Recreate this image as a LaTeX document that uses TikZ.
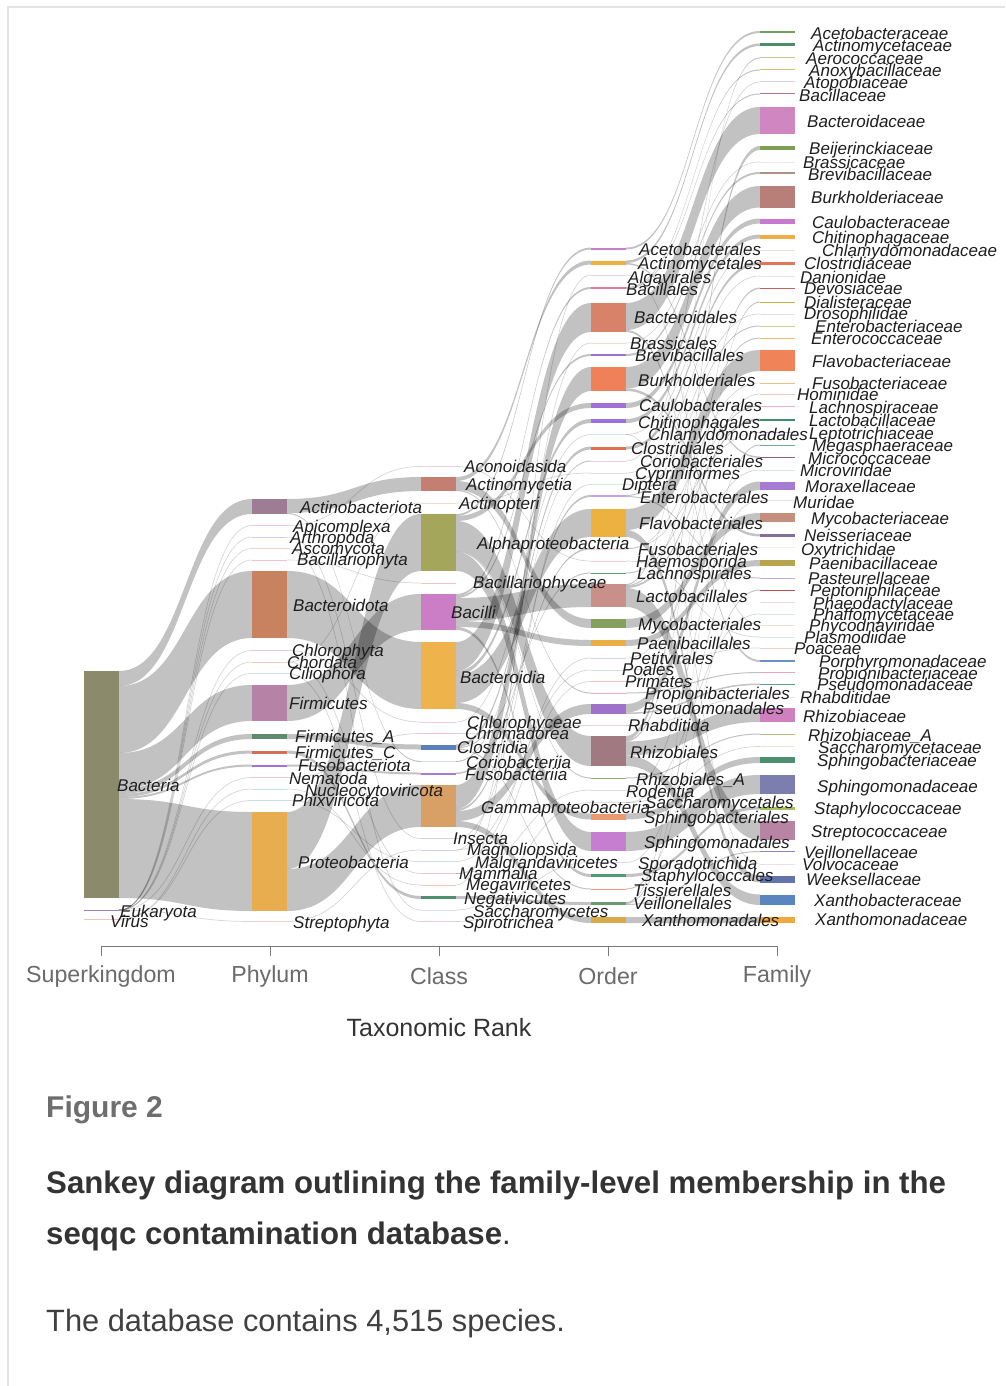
\documentclass[tikz,border=0pt]{standalone}
\usepackage{fontspec}
\setmainfont{Liberation Sans}
\usetikzlibrary{calc}
\pgfdeclarelayer{bg}
\pgfsetlayers{bg,main}
\definecolor{axisgrey}{HTML}{7A7A7A}
\definecolor{ticktext}{HTML}{6B6B6B}
\definecolor{figgrey}{HTML}{6E6E6E}
\definecolor{captext}{HTML}{333333}
\definecolor{bodytext}{HTML}{404040}
\definecolor{cardline}{HTML}{E4E4E4}
\definecolor{lbltext}{HTML}{1E1E1E}
\newcommand\nd[5]{\definecolor{c#1}{HTML}{#5}\node[sbar,fill=c#1,minimum height=#4pt] (#1) at (#2,#3) {};}
\newcommand\lb[4]{\node[lbl] (L#1) at (#2,#3) {#4};}
\newcommand\bd[5]{\fill[flow] ($(#1.north east)+(0,#2)$) .. controls ($(#1.north east)+(67,#2)$) and ($(#3.north west)+(-67,#4)$) .. ($(#3.north west)+(0,#4)$) -- ($(#3.north west)+(0,#4+#5)$) .. controls ($(#3.north west)+(-67,#4+#5)$) and ($(#1.north east)+(67,#2+#5)$) .. ($(#1.north east)+(0,#2+#5)$) -- cycle;}
\newcommand\tn[2]{\draw[thinflow] (#1.east) .. controls +(67,0) and +(-67,0) .. (#2.west);}
\begin{document}
\begin{tikzpicture}[x=1pt,y=-1pt,
  sbar/.style={rectangle,draw=none,inner sep=0pt,outer sep=0pt,minimum width=35pt,anchor=north west},
  lbl/.style={anchor=west,inner sep=0pt,text height=12.2pt,text depth=0pt,font=\fontsize{17}{17}\selectfont\itshape,text=lbltext},
  flow/.style={fill=black,fill opacity=0.24,draw=none},
  thinflow/.style={draw=black,draw opacity=0.16,line width=0.7pt},
  tick/.style={draw=axisgrey,line width=1pt},
  ticklbl/.style={inner sep=0pt,font=\fontsize{23.2}{25}\selectfont,text=ticktext}]
\useasboundingbox (0,0) rectangle (1005,1386);
\begin{pgfonlayer}{bg}
\fill[white] (0,0) rectangle (1005,1386);
\draw[cardline,line width=1.2pt] (1005,7) -- (8,7) -- (8,1386);
\end{pgfonlayer}

% ---- Superkingdom
\nd{Bacteria}{84}{671}{227}{8B8B6C}
\nd{Eukaryota}{84}{909.5}{1.2}{9C80C8}
\nd{Virus}{84}{918.5}{1.2}{F2C4B8}
% ---- Phylum
\nd{Actinobacteriota}{252}{499}{15}{9E7D94}
\nd{Apicomplexa}{252}{525}{1}{F0C8D8}
\nd{Arthropoda}{252}{536.5}{1}{D4CCEE}
\nd{Ascomycota}{252}{548}{1}{F2D4C4}
\nd{Bacillariophyta}{252}{559.5}{1}{F0C0D0}
\nd{Bacteroidota}{252}{571}{67}{C8825F}
\nd{Chlorophyta}{252}{650}{1}{E8C4E8}
\nd{Chordata}{252}{661.5}{1}{F2CCBC}
\nd{Ciliophora}{252}{673}{1}{D8DCF0}
\nd{Firmicutes}{252}{685}{36}{B683A6}
\nd{FirmicutesA}{252}{734}{5}{5F8A6B}
\nd{FirmicutesC}{252}{750.5}{3}{D07058}
\nd{Fusobacteriota}{252}{764.5}{2}{A36EE0}
\nd{Nematoda}{252}{777}{1}{F0C8C8}
\nd{Nucleocytoviricota}{252}{788.5}{1}{C8DCEC}
\nd{Phixviricota}{252}{800}{1}{C4E0E0}
\nd{Proteobacteria}{252}{812}{99}{E8AD4F}
\nd{Streptophyta}{252}{921}{1}{F2D0C4}
% ---- Class
\nd{Aconoidasida}{421}{466}{1}{F0D0DC}
\nd{Actinomycetia}{421}{477}{14}{C47E72}
\nd{Actinopteri}{421}{502.5}{1}{F0DCD0}
\nd{Alphaproteobacteria}{421}{514}{57}{A4A65C}
\nd{Bacillariophyceae}{421}{582.5}{1}{F0C4C4}
\nd{Bacilli}{421}{594}{36}{CB7DC5}
\nd{Bacteroidia}{421}{642}{67}{EEB34B}
\nd{Chlorophyceae}{421}{721.5}{1}{F0CCD4}
\nd{Chromadorea}{421}{733}{1}{F0C4CC}
\nd{Clostridia}{421}{744.5}{5}{5B7FB8}
\nd{Coriobacteriia}{421}{761}{1}{D4DCF0}
\nd{Fusobacteriia}{421}{772.5}{2}{A67AD8}
\nd{Gammaproteobacteria}{421}{785}{42}{D9A066}
\nd{Insecta}{421}{838}{1}{D4D4E8}
\nd{Magnoliopsida}{421}{849.5}{1}{DCCCF0}
\nd{Malgrandaviricetes}{421}{861}{1}{CCDCE8}
\nd{Mammalia}{421}{873}{1}{F0C4CC}
\nd{Megaviricetes}{421}{884.5}{1}{F0CCBC}
\nd{Negativicutes}{421}{896}{3}{4F8F70}
\nd{Saccharomycetes}{421}{909.5}{1}{DCE4F0}
\nd{Spirotrichea}{421}{921}{1}{F0CCD4}
% ---- Order
\nd{Acetobacterales}{591}{247.5}{2}{C77FC8}
\nd{Actinomycetales}{591}{260.5}{4}{EFB040}
\nd{Algavirales}{591}{274.5}{1}{DCD4F0}
\nd{Bacillales}{591}{287}{2}{E87898}
\nd{Bacteroidales}{591}{303}{29}{D9826A}
\nd{Brassicales}{591}{342.5}{1}{F0DCD4}
\nd{Brevibacillales}{591}{354}{2}{9A70D0}
\nd{Burkholderiales}{591}{367}{24}{EF8058}
\nd{Caulobacterales}{591}{403}{5}{A070D8}
\nd{Chitinophagales}{591}{419}{4}{9870E0}
\nd{Chlamydomonadales}{591}{434}{1}{D4E8DC}
\nd{Clostridiales}{591}{446.5}{3}{E07050}
\nd{Coriobacteriales}{591}{460.5}{1}{F0CCDC}
\nd{Cypriniformes}{591}{472.5}{1}{DCDCDC}
\nd{Diptera}{591}{484}{1}{D4ECDC}
\nd{Enterobacterales}{591}{495}{2}{C8A0E8}
\nd{Flavobacteriales}{591}{509}{28}{ECB13F}
\nd{Fusobacteriales}{591}{548}{1.5}{F0DCE4}
\nd{Haemosporida}{591}{560.5}{1}{F0CCCC}
\nd{Lachnospirales}{591}{572.5}{1}{5FA070}
\nd{Lactobacillales}{591}{584}{23}{C9908A}
\nd{Mycobacteriales}{591}{619}{9}{83A05F}
\nd{Paenibacillales}{591}{640}{6}{E9AE45}
\nd{Petitvirales}{591}{657.5}{1}{CCDCDC}
\nd{Poales}{591}{669.5}{1}{D4E4D4}
\nd{Primates}{591}{681}{1}{F0C4BC}
\nd{Propionibacteriales}{591}{692.5}{1}{F0A8BC}
\nd{Pseudomonadales}{591}{704}{10}{A071C9}
\nd{Rhabditida}{591}{725}{1}{F0D4DC}
\nd{Rhizobiales}{591}{736}{30}{A07A80}
\nd{RhizobialesA}{591}{777.5}{1}{90B070}
\nd{Rodentia}{591}{789.5}{1}{DCDCF0}
\nd{Saccharomycetales}{591}{802}{1}{E4DCF0}
\nd{Sphingobacteriales}{591}{813.5}{6}{E99A70}
\nd{Sphingomonadales}{591}{832}{19}{C67FD0}
\nd{Sporadotrichida}{591}{862}{1}{DCD4F0}
\nd{Staphylococcales}{591}{874}{3}{4F9A70}
\nd{Tissierellales}{591}{888.5}{1.5}{F09880}
\nd{Veillonellales}{591}{902}{3}{6A9A70}
\nd{Xanthomonadales}{591}{917}{6}{D9AA48}
% ---- Family
\nd{Acetobacteraceae}{760}{31}{2}{70A060}
\nd{Actinomycetaceae}{760}{43.5}{2.5}{4F8A6A}
\nd{Aerococcaceae}{760}{57.5}{1}{C8C890}
\nd{Anoxybacillaceae}{760}{69.5}{1}{D8C070}
\nd{Atopobiaceae}{760}{81.5}{1}{D8D0F0}
\nd{Bacillaceae}{760}{93.5}{1}{B07880}
\nd{Bacteroidaceae}{760}{107}{27}{D086C0}
\nd{Beijerinckiaceae}{760}{146}{4}{7E9D55}
\nd{Brassicaceae}{760}{161.5}{1}{F0E4E4}
\nd{Brevibacillaceae}{760}{172}{2}{B09080}
\nd{Burkholderiaceae}{760}{186}{21.5}{B87F78}
\nd{Caulobacteraceae}{760}{218.5}{5}{C77AD0}
\nd{Chitinophagaceae}{760}{234.5}{4}{EFAD45}
\nd{Chlamydomonadaceae}{760}{249.5}{1}{E8E0D8}
\nd{Clostridiaceae}{760}{262}{3}{E0775A}
\nd{Danionidae}{760}{275.5}{1}{F0E0E8}
\nd{Devosiaceae}{760}{287.5}{1.5}{C06060}
\nd{Dialisteraceae}{760}{301.5}{1}{C8B040}
\nd{Drosophilidae}{760}{313.5}{1}{E4DCF0}
\nd{Enterobacteriaceae}{760}{325.5}{1}{C8D098}
\nd{Enterococcaceae}{760}{337.5}{1}{E8C070}
\nd{Flavobacteriaceae}{760}{350}{21}{F08458}
\nd{Fusobacteriaceae}{760}{382.5}{1}{E8C088}
\nd{Hominidae}{760}{393.5}{1}{F0CCC4}
\nd{Lachnospiraceae}{760}{405.5}{1}{F0B0C8}
\nd{Lactobacillaceae}{760}{418.5}{2}{3F8F6A}
\nd{Leptotrichiaceae}{760}{432}{1}{C8B0E8}
\nd{Megasphaeraceae}{760}{444.5}{1}{70B090}
\nd{Micrococcaceae}{760}{456.5}{1}{906080}
\nd{Microviridae}{760}{469.5}{1}{D8E8E8}
\nd{Moraxellaceae}{760}{481.5}{8.5}{A67CD2}
\nd{Muridae}{760}{500}{1}{F0DCDC}
\nd{Mycobacteriaceae}{760}{513}{9}{C48F7C}
\nd{Neisseriaceae}{760}{534}{2.5}{7F6F9A}
\nd{Oxytrichidae}{760}{547}{1}{F0F0E4}
\nd{Paenibacillaceae}{760}{560}{6}{B8A44F}
\nd{Pasteurellaceae}{760}{577.5}{1}{C0A8E0}
\nd{Peptoniphilaceae}{760}{589.5}{1}{C05050}
\nd{Phaeodactylaceae}{760}{601.5}{1}{E8D8F0}
\nd{Phaffomycetaceae}{760}{613.5}{1}{D8E8E8}
\nd{Phycodnaviridae}{760}{624.5}{1}{F0E0D0}
\nd{Plasmodiidae}{760}{636.5}{1}{D8E8E8}
\nd{Poaceae}{760}{647.5}{1}{F0D0D0}
\nd{Porphyromonadaceae}{760}{660}{2}{6A90C8}
\nd{Propionibacteriaceae}{760}{672}{1}{F0A0C0}
\nd{Pseudomonadaceae}{760}{683.5}{1.5}{60A080}
\nd{Rhabditidae}{760}{696.5}{1}{F0E0E0}
\nd{Rhizobiaceae}{760}{708}{14}{CF80BF}
\nd{RhizobiaceaeA}{760}{733.5}{1}{B0C080}
\nd{Saccharomycetaceae}{760}{746}{1}{F0E0D8}
\nd{Sphingobacteriaceae}{760}{757}{6}{4A8F70}
\nd{Sphingomonadaceae}{760}{775}{19}{7B7EAF}
\nd{Staphylococcaceae}{760}{806.5}{3}{A8C060}
\nd{Streptococcaceae}{760}{821}{19}{B784A4}
\nd{Veillonellaceae}{760}{851}{1}{9080C0}
\nd{Volvocaceae}{760}{863.5}{1}{E8E0F0}
\nd{Weeksellaceae}{760}{875.5}{7}{6474AA}
\nd{Xanthobacteraceae}{760}{894.5}{10.5}{5A86C0}
\nd{Xanthomonadaceae}{760}{917}{6}{F0A93E}

\begin{pgfonlayer}{bg}
% Superkingdom -> Phylum
\bd{Bacteria}{0}{Actinobacteriota}{0}{15}
\bd{Bacteria}{15}{Bacteroidota}{0}{67}
\bd{Bacteria}{82}{Firmicutes}{0}{36}
\bd{Bacteria}{118}{FirmicutesA}{0}{5}
\bd{Bacteria}{123}{FirmicutesC}{0}{3}
\bd{Bacteria}{126}{Fusobacteriota}{0}{2}
\bd{Bacteria}{128}{Proteobacteria}{0}{99}
\tn{Eukaryota}{Apicomplexa}
\tn{Eukaryota}{Arthropoda}
\tn{Eukaryota}{Ascomycota}
\tn{Eukaryota}{Bacillariophyta}
\tn{Eukaryota}{Chlorophyta}
\tn{Eukaryota}{Chordata}
\tn{Eukaryota}{Ciliophora}
\tn{Eukaryota}{Nematoda}
\tn{Eukaryota}{Streptophyta}
\tn{Virus}{Nucleocytoviricota}
\tn{Virus}{Phixviricota}
% Phylum -> Class
\bd{Actinobacteriota}{0}{Actinomycetia}{0}{14}
\bd{Actinobacteriota}{14}{Coriobacteriia}{0}{1}
\bd{Bacteroidota}{0}{Bacteroidia}{0}{67}
\bd{Firmicutes}{0}{Bacilli}{0}{36}
\bd{FirmicutesA}{0}{Clostridia}{0}{5}
\bd{FirmicutesC}{0}{Negativicutes}{0}{3}
\bd{Fusobacteriota}{0}{Fusobacteriia}{0}{2}
\bd{Proteobacteria}{0}{Alphaproteobacteria}{0}{57}
\bd{Proteobacteria}{57}{Gammaproteobacteria}{0}{42}
\tn{Apicomplexa}{Aconoidasida}
\tn{Arthropoda}{Insecta}
\tn{Ascomycota}{Saccharomycetes}
\tn{Bacillariophyta}{Bacillariophyceae}
\tn{Chlorophyta}{Chlorophyceae}
\tn{Chordata}{Actinopteri}
\tn{Chordata}{Mammalia}
\tn{Ciliophora}{Spirotrichea}
\tn{Nematoda}{Chromadorea}
\tn{Nucleocytoviricota}{Megaviricetes}
\tn{Phixviricota}{Malgrandaviricetes}
\tn{Streptophyta}{Magnoliopsida}
% Class -> Order
\bd{Actinomycetia}{0}{Actinomycetales}{0}{4}
\bd{Actinomycetia}{4}{Mycobacteriales}{0}{9}
\bd{Actinomycetia}{13}{Propionibacteriales}{0}{1}
\bd{Alphaproteobacteria}{0}{Acetobacterales}{0}{2}
\bd{Alphaproteobacteria}{2}{Caulobacterales}{0}{5}
\bd{Alphaproteobacteria}{7}{Rhizobiales}{0}{30}
\bd{Alphaproteobacteria}{37}{RhizobialesA}{0}{1}
\bd{Alphaproteobacteria}{38}{Sphingomonadales}{0}{19}
\bd{Bacilli}{0}{Bacillales}{0}{2}
\bd{Bacilli}{2}{Brevibacillales}{0}{2}
\bd{Bacilli}{4}{Lactobacillales}{0}{23}
\bd{Bacilli}{27}{Paenibacillales}{0}{6}
\bd{Bacilli}{33}{Staphylococcales}{0}{3}
\bd{Bacteroidia}{0}{Bacteroidales}{0}{29}
\bd{Bacteroidia}{29}{Chitinophagales}{0}{4}
\bd{Bacteroidia}{33}{Flavobacteriales}{0}{28}
\bd{Bacteroidia}{61}{Sphingobacteriales}{0}{6}
\bd{Clostridia}{0}{Clostridiales}{0}{3}
\bd{Clostridia}{3}{Lachnospirales}{0}{1}
\bd{Clostridia}{4}{Tissierellales}{0}{1}
\bd{Gammaproteobacteria}{0}{Burkholderiales}{0}{24}
\bd{Gammaproteobacteria}{24}{Enterobacterales}{0}{2}
\bd{Gammaproteobacteria}{26}{Pseudomonadales}{0}{10}
\bd{Gammaproteobacteria}{36}{Xanthomonadales}{0}{6}
\bd{Negativicutes}{0}{Veillonellales}{0}{3}
\bd{Fusobacteriia}{0}{Fusobacteriales}{0}{1.5}
\bd{Coriobacteriia}{0}{Coriobacteriales}{0}{1}
\tn{Aconoidasida}{Haemosporida}
\tn{Actinopteri}{Cypriniformes}
\tn{Chlorophyceae}{Chlamydomonadales}
\tn{Chromadorea}{Rhabditida}
\tn{Insecta}{Diptera}
\tn{Magnoliopsida}{Brassicales}
\tn{Magnoliopsida}{Poales}
\tn{Malgrandaviricetes}{Petitvirales}
\tn{Mammalia}{Primates}
\tn{Mammalia}{Rodentia}
\tn{Megaviricetes}{Algavirales}
\tn{Saccharomycetes}{Saccharomycetales}
\tn{Spirotrichea}{Sporadotrichida}
% Order -> Family
\bd{Acetobacterales}{0}{Acetobacteraceae}{0}{2}
\bd{Actinomycetales}{0}{Actinomycetaceae}{0}{2.5}
\bd{Actinomycetales}{2.5}{Micrococcaceae}{0}{1.5}
\bd{Bacillales}{0}{Anoxybacillaceae}{0}{1}
\bd{Bacillales}{1}{Bacillaceae}{0}{1}
\bd{Bacteroidales}{0}{Bacteroidaceae}{0}{27}
\bd{Bacteroidales}{27}{Porphyromonadaceae}{0}{2}
\bd{Brevibacillales}{0}{Brevibacillaceae}{0}{2}
\bd{Burkholderiales}{0}{Burkholderiaceae}{0}{21.5}
\bd{Burkholderiales}{21.5}{Neisseriaceae}{0}{2.5}
\bd{Caulobacterales}{0}{Caulobacteraceae}{0}{5}
\bd{Chitinophagales}{0}{Chitinophagaceae}{0}{4}
\bd{Clostridiales}{0}{Clostridiaceae}{0}{3}
\bd{Enterobacterales}{0}{Enterobacteriaceae}{0}{1}
\bd{Enterobacterales}{1}{Pasteurellaceae}{0}{1}
\bd{Flavobacteriales}{0}{Flavobacteriaceae}{0}{21}
\bd{Flavobacteriales}{21}{Weeksellaceae}{0}{7}
\bd{Lachnospirales}{0}{Lachnospiraceae}{0}{1}
\bd{Lactobacillales}{0}{Aerococcaceae}{0}{1}
\bd{Lactobacillales}{1}{Enterococcaceae}{0}{1}
\bd{Lactobacillales}{2}{Lactobacillaceae}{0}{2}
\bd{Lactobacillales}{4}{Streptococcaceae}{0}{19}
\bd{Mycobacteriales}{0}{Mycobacteriaceae}{0}{9}
\bd{Paenibacillales}{0}{Paenibacillaceae}{0}{6}
\bd{Propionibacteriales}{0}{Propionibacteriaceae}{0}{1}
\bd{Pseudomonadales}{0}{Moraxellaceae}{0}{8.5}
\bd{Pseudomonadales}{8.5}{Pseudomonadaceae}{0}{1.5}
\bd{Rhizobiales}{0}{Beijerinckiaceae}{0}{4}
\bd{Rhizobiales}{4}{Devosiaceae}{0}{1.5}
\bd{Rhizobiales}{5.5}{Rhizobiaceae}{0}{14}
\bd{Rhizobiales}{19.5}{Xanthobacteraceae}{0}{10.5}
\bd{RhizobialesA}{0}{RhizobiaceaeA}{0}{1}
\bd{Sphingobacteriales}{0}{Sphingobacteriaceae}{0}{6}
\bd{Sphingomonadales}{0}{Sphingomonadaceae}{0}{19}
\bd{Staphylococcales}{0}{Staphylococcaceae}{0}{3}
\bd{Tissierellales}{0}{Peptoniphilaceae}{0}{1}
\bd{Veillonellales}{0}{Dialisteraceae}{0}{1}
\bd{Veillonellales}{1}{Megasphaeraceae}{0}{1}
\bd{Veillonellales}{2}{Veillonellaceae}{0}{1}
\bd{Xanthomonadales}{0}{Xanthomonadaceae}{0}{6}
\tn{Algavirales}{Phycodnaviridae}
\tn{Brassicales}{Brassicaceae}
\tn{Chlamydomonadales}{Chlamydomonadaceae}
\tn{Chlamydomonadales}{Volvocaceae}
\tn{Coriobacteriales}{Atopobiaceae}
\tn{Cypriniformes}{Danionidae}
\tn{Diptera}{Drosophilidae}
\tn{Fusobacteriales}{Fusobacteriaceae}
\tn{Fusobacteriales}{Leptotrichiaceae}
\tn{Haemosporida}{Plasmodiidae}
\tn{Petitvirales}{Microviridae}
\tn{Poales}{Poaceae}
\tn{Primates}{Hominidae}
\tn{Rhabditida}{Rhabditidae}
\tn{Rodentia}{Muridae}
\tn{Saccharomycetales}{Saccharomycetaceae}
\tn{Saccharomycetales}{Phaffomycetaceae}
\tn{Sporadotrichida}{Oxytrichidae}
\end{pgfonlayer}

% ---- labels
\lb{Bacteria}{117}{785}{Bacteria}
\lb{Eukaryota}{120}{911}{Eukaryota}
\lb{Virus}{110}{921}{Virus}
\lb{Actinobacteriota}{300}{507}{Actinobacteriota}
\lb{Apicomplexa}{293}{526}{Apicomplexa}
\lb{Arthropoda}{290}{537}{Arthropoda}
\lb{Ascomycota}{292}{548}{Ascomycota}
\lb{Bacillariophyta}{297}{559}{Bacillariophyta}
\lb{Bacteroidota}{293}{605}{Bacteroidota}
\lb{Chlorophyta}{292}{650}{Chlorophyta}
\lb{Chordata}{287}{662}{Chordata}
\lb{Ciliophora}{289}{673}{Ciliophora}
\lb{Firmicutes}{289}{703}{Firmicutes}
\lb{FirmicutesA}{295}{736}{Firmicutes\_A}
\lb{FirmicutesC}{295}{752}{Firmicutes\_C}
\lb{Fusobacteriota}{298}{765}{Fusobacteriota}
\lb{Nematoda}{289}{778}{Nematoda}
\lb{Nucleocytoviricota}{305}{790}{Nucleocytoviricota}
\lb{Phixviricota}{292}{800}{Phixviricota}
\lb{Proteobacteria}{298}{862}{Proteobacteria}
\lb{Streptophyta}{293}{922}{Streptophyta}
\lb{Aconoidasida}{464}{466}{Aconoidasida}
\lb{Actinomycetia}{466}{484}{Actinomycetia}
\lb{Actinopteri}{459}{503}{Actinopteri}
\lb{Alphaproteobacteria}{477}{543}{Alphaproteobacteria}
\lb{Bacillariophyceae}{473}{582}{Bacillariophyceae}
\lb{Bacilli}{451}{612}{Bacilli}
\lb{Bacteroidia}{460}{677}{Bacteroidia}
\lb{Chlorophyceae}{467}{722}{Chlorophyceae}
\lb{Chromadorea}{465}{733}{Chromadorea}
\lb{Clostridia}{457}{747}{Clostridia}
\lb{Coriobacteriia}{466}{762}{Coriobacteriia}
\lb{Fusobacteriia}{465}{774}{Fusobacteriia}
\lb{Gammaproteobacteria}{481}{807}{Gammaproteobacteria}
\lb{Insecta}{453}{838}{Insecta}
\lb{Magnoliopsida}{467}{849}{Magnoliopsida}
\lb{Malgrandaviricetes}{475}{862}{Malgrandaviricetes}
\lb{Mammalia}{459}{873}{Mammalia}
\lb{Megaviricetes}{466}{884}{Megaviricetes}
\lb{Negativicutes}{464}{898}{Negativicutes}
\lb{Saccharomycetes}{473}{911}{Saccharomycetes}
\lb{Spirotrichea}{463}{922}{Spirotrichea}
\lb{Acetobacterales}{639}{249}{Acetobacterales}
\lb{Actinomycetales}{638}{263}{Actinomycetales}
\lb{Algavirales}{628}{277}{Algavirales}
\lb{Bacillales}{626}{289}{Bacillales}
\lb{Bacteroidales}{634}{317}{Bacteroidales}
\lb{Brassicales}{630}{343}{Brassicales}
\lb{Brevibacillales}{635}{355}{Brevibacillales}
\lb{Burkholderiales}{638}{380}{Burkholderiales}
\lb{Caulobacterales}{639}{405}{Caulobacterales}
\lb{Chitinophagales}{638}{422}{Chitinophagales}
\lb{Chlamydomonadales}{648}{434}{Chlamydomonadales}
\lb{Clostridiales}{631}{448}{Clostridiales}
\lb{Coriobacteriales}{640}{461}{Coriobacteriales}
\lb{Cypriniformes}{635}{473}{Cypriniformes}
\lb{Diptera}{622}{484}{Diptera}
\lb{Enterobacterales}{640}{497}{Enterobacterales}
\lb{Flavobacteriales}{639}{523}{Flavobacteriales}
\lb{Fusobacteriales}{638}{549}{Fusobacteriales}
\lb{Haemosporida}{636}{561}{Haemosporida}
\lb{Lachnospirales}{637}{573}{Lachnospirales}
\lb{Lactobacillales}{636}{596}{Lactobacillales}
\lb{Mycobacteriales}{638}{624}{Mycobacteriales}
\lb{Paenibacillales}{637}{643}{Paenibacillales}
\lb{Petitvirales}{630}{658}{Petitvirales}
\lb{Poales}{622}{669}{Poales}
\lb{Primates}{625}{681}{Primates}
\lb{Propionibacteriales}{645}{693}{Propionibacteriales}
\lb{Pseudomonadales}{643}{708}{Pseudomonadales}
\lb{Rhabditida}{628}{725}{Rhabditida}
\lb{Rhizobiales}{630}{752}{Rhizobiales}
\lb{RhizobialesA}{636}{779}{Rhizobiales\_A}
\lb{Rodentia}{626}{791}{Rodentia}
\lb{Saccharomycetales}{645}{802}{Saccharomycetales}
\lb{Sphingobacteriales}{644}{817}{Sphingobacteriales}
\lb{Sphingomonadales}{644}{842}{Sphingomonadales}
\lb{Sporadotrichida}{638}{863}{Sporadotrichida}
\lb{Staphylococcales}{641}{875}{Staphylococcales}
\lb{Tissierellales}{633}{890}{Tissierellales}
\lb{Veillonellales}{633}{903}{Veillonellales}
\lb{Xanthomonadales}{642}{920}{Xanthomonadales}
\lb{Acetobacteraceae}{811}{33}{Acetobacteraceae}
\lb{Actinomycetaceae}{813}{45}{Actinomycetaceae}
\lb{Aerococcaceae}{806}{58}{Aerococcaceae}
\lb{Anoxybacillaceae}{809}{70}{Anoxybacillaceae}
\lb{Atopobiaceae}{804}{82}{Atopobiaceae}
\lb{Bacillaceae}{799}{95}{Bacillaceae}
\lb{Bacteroidaceae}{807}{121}{Bacteroidaceae}
\lb{Beijerinckiaceae}{809}{148}{Beijerinckiaceae}
\lb{Brassicaceae}{803}{162}{Brassicaceae}
\lb{Brevibacillaceae}{808}{174}{Brevibacillaceae}
\lb{Burkholderiaceae}{811}{197}{Burkholderiaceae}
\lb{Caulobacteraceae}{812}{222}{Caulobacteraceae}
\lb{Chitinophagaceae}{812}{237}{Chitinophagaceae}
\lb{Chlamydomonadaceae}{822}{250}{Chlamydomonadaceae}
\lb{Clostridiaceae}{804}{263}{Clostridiaceae}
\lb{Danionidae}{800}{277}{Danionidae}
\lb{Devosiaceae}{804}{288}{Devosiaceae}
\lb{Dialisteraceae}{804}{302}{Dialisteraceae}
\lb{Drosophilidae}{804}{313}{Drosophilidae}
\lb{Enterobacteriaceae}{815}{326}{Enterobacteriaceae}
\lb{Enterococcaceae}{811}{338}{Enterococcaceae}
\lb{Flavobacteriaceae}{812}{361}{Flavobacteriaceae}
\lb{Fusobacteriaceae}{812}{383}{Fusobacteriaceae}
\lb{Hominidae}{797}{394}{Hominidae}
\lb{Lachnospiraceae}{809}{407}{Lachnospiraceae}
\lb{Lactobacillaceae}{809}{420}{Lactobacillaceae}
\lb{Leptotrichiaceae}{809}{433}{Leptotrichiaceae}
\lb{Megasphaeraceae}{812}{445}{Megasphaeraceae}
\lb{Micrococcaceae}{808}{458}{Micrococcaceae}
\lb{Microviridae}{800}{470}{Microviridae}
\lb{Moraxellaceae}{805}{486}{Moraxellaceae}
\lb{Muridae}{793}{502}{Muridae}
\lb{Mycobacteriaceae}{811}{518}{Mycobacteriaceae}
\lb{Neisseriaceae}{804}{535}{Neisseriaceae}
\lb{Oxytrichidae}{801}{549}{Oxytrichidae}
\lb{Paenibacillaceae}{809}{563}{Paenibacillaceae}
\lb{Pasteurellaceae}{808}{578}{Pasteurellaceae}
\lb{Peptoniphilaceae}{810}{590}{Peptoniphilaceae}
\lb{Phaeodactylaceae}{813}{603}{Phaeodactylaceae}
\lb{Phaffomycetaceae}{813}{614}{Phaffomycetaceae}
\lb{Phycodnaviridae}{809}{625}{Phycodnaviridae}
\lb{Plasmodiidae}{804}{637}{Plasmodiidae}
\lb{Poaceae}{794}{648}{Poaceae}
\lb{Porphyromonadaceae}{819}{661}{Porphyromonadaceae}
\lb{Propionibacteriaceae}{818}{673}{Propionibacteriaceae}
\lb{Pseudomonadaceae}{817}{684}{Pseudomonadaceae}
\lb{Rhabditidae}{800}{697}{Rhabditidae}
\lb{Rhizobiaceae}{803}{716}{Rhizobiaceae}
\lb{RhizobiaceaeA}{808}{735}{Rhizobiaceae\_A}
\lb{Saccharomycetaceae}{818}{747}{Saccharomycetaceae}
\lb{Sphingobacteriaceae}{817}{760}{Sphingobacteriaceae}
\lb{Sphingomonadaceae}{817}{786}{Sphingomonadaceae}
\lb{Staphylococcaceae}{814}{808}{Staphylococcaceae}
\lb{Streptococcaceae}{811}{831}{Streptococcaceae}
\lb{Veillonellaceae}{804}{852}{Veillonellaceae}
\lb{Volvocaceae}{802}{864}{Volvocaceae}
\lb{Weeksellaceae}{806}{879}{Weeksellaceae}
\lb{Xanthobacteraceae}{814}{900}{Xanthobacteraceae}
\lb{Xanthomonadaceae}{815}{919}{Xanthomonadaceae}

% ---- axis
\coordinate (ax1) at (101,946);
\coordinate (ax2) at (270,946);
\coordinate (ax3) at (439,946);
\coordinate (ax4) at (608,946);
\coordinate (ax5) at (777,946);
\draw[tick] (ax1) -- (ax5);
\foreach \i in {1,...,5} {\draw[tick] (ax\i) -- ++(0,10);}
\node[ticklbl] (tk1) at (101,976) {Superkingdom};
\node[ticklbl] (tk2) at (270,976) {Phylum};
\node[ticklbl] (tk3) at (439,976) {Class};
\node[ticklbl] (tk4) at (608,976) {Order};
\node[ticklbl] (tk5) at (777,976) {Family};
\node[inner sep=0pt,font=\fontsize{25}{27}\selectfont,text=captext] (axtitle) at (439,1028) {Taxonomic Rank};

% ---- caption
\node[anchor=west,inner sep=0pt,font=\fontsize{30}{32}\selectfont\bfseries,text=figgrey] (fig) at (46,1110) {Figure 2};
\node[anchor=west,inner sep=0pt,font=\fontsize{31.2}{33}\selectfont\bfseries,text=captext] (cap1) at (46,1185) {Sankey diagram outlining the family-level membership in the};
\node[anchor=west,inner sep=0pt,font=\fontsize{31.2}{33}\selectfont,text=captext] (cap2) at (46,1236) {\textbf{seqqc contamination database}.};
\node[anchor=west,inner sep=0pt,font=\fontsize{30.8}{33}\selectfont,text=bodytext] (cap3) at (46,1324) {The database contains 4,515 species.};
\end{tikzpicture}
\end{document}
